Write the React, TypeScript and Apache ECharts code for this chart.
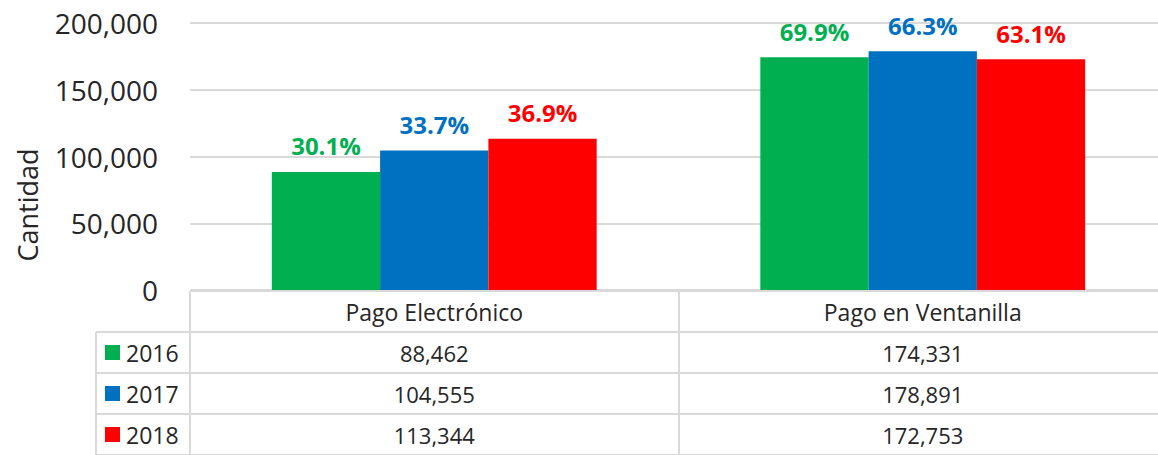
import React, { useEffect, useRef } from "react";
import * as echarts from "echarts";

const categories = ["Pago Electrónico", "Pago en Ventanilla"];
const years = ["2016", "2017", "2018"];
const values2016 = [88462, 174331];
const values2017 = [104555, 178891];
const values2018 = [113344, 172753];
const pct2016 = ["30.1%", "69.9%"];
const pct2017 = ["33.7%", "66.3%"];
const pct2018 = ["36.9%", "63.1%"];
const colors = ["#00B050", "#0070C0", "#FF0000"];

const FONT = "'Open Sans', sans-serif";
const TEXT = "#262626";
const LINE = "#d9d9d9";

const fmt = (v: number) => v.toLocaleString("en-US");

export default function App() {
  const ref = useRef<HTMLDivElement>(null);
  useEffect(() => {
    document.body.style.margin = "0";
    document.body.style.overflow = "hidden";
    const chart = echarts.init(ref.current!, null, { renderer: "svg" });
    const seriesValues = [values2016, values2017, values2018];
    const seriesPct = [pct2016, pct2017, pct2018];

    const cellData: number[][] = [];
    for (let r = 0; r < 4; r++) {
      for (let c = 0; c < categories.length; c++) cellData.push([c, r]);
    }

    const bars = years.map((y, i) => ({
      name: y,
      type: "bar",
      xAxisIndex: 0,
      yAxisIndex: 0,
      data: seriesValues[i],
      barGap: "0%",
      barCategoryGap: "33.5%",
      itemStyle: { color: colors[i] },
      label: {
        show: true,
        position: "top",
        distance: 14,
        formatter: (p: any) => seriesPct[i][p.dataIndex],
        color: colors[i],
        fontFamily: FONT,
        fontWeight: "bold",
        fontSize: 24,
      },
    }));

    const rich: any = { y: { fontFamily: FONT, fontSize: 23, color: TEXT, padding: [0, 0, 0, 6] } };
    years.forEach((y, i) => {
      rich["k" + i] = { width: 15, height: 15, backgroundColor: colors[i] };
    });

    chart.setOption({
      animation: false,
      grid: [
        { left: 190, right: 0, top: 23, bottom: 165 },
        { left: 190, right: 0, top: 291, bottom: 0 },
        { left: 96, width: 94, top: 332, bottom: 0 },
      ],
      xAxis: [
        {
          gridIndex: 0,
          type: "category",
          data: categories,
          axisLine: { show: false },
          axisTick: { show: false },
          axisLabel: { show: false },
        },
        {
          gridIndex: 1,
          type: "category",
          data: categories,
          axisLine: { show: false },
          axisTick: { show: false },
          axisLabel: { show: false },
          splitLine: { show: true, lineStyle: { color: LINE, width: 2 } },
        },
        {
          gridIndex: 2,
          type: "category",
          data: [""],
          axisLine: { show: false },
          axisTick: { show: false },
          axisLabel: { show: false },
          splitLine: { show: true, lineStyle: { color: LINE, width: 2 } },
        },
      ],
      yAxis: [
        {
          gridIndex: 0,
          type: "value",
          min: 0,
          max: 200000,
          interval: 50000,
          axisLine: { show: false },
          axisTick: { show: false },
          axisLabel: {
            formatter: (v: number) => fmt(v),
            fontFamily: FONT,
            fontSize: 28,
            color: TEXT,
            margin: 32,
          },
          splitLine: { lineStyle: { color: LINE, width: 2 } },
        },
        {
          gridIndex: 1,
          type: "category",
          inverse: true,
          data: ["", ...years],
          axisLine: { show: false },
          axisTick: { show: false },
          axisLabel: { show: false },
          splitLine: { show: true, lineStyle: { color: LINE, width: 2 } },
        },
        {
          gridIndex: 2,
          type: "category",
          inverse: true,
          data: years,
          axisLine: { show: false },
          axisTick: { show: false },
          axisLabel: {
            inside: true,
            margin: 9,
            formatter: (v: string, idx: number) => `{k${idx}|}{y|${v}}`,
            rich,
          },
          splitLine: { show: true, lineStyle: { color: LINE, width: 2 } },
        },
      ],
      graphic: [
        {
          type: "text",
          x: 27,
          y: 205,
          rotation: Math.PI / 2,
          style: {
            text: "Cantidad",
            font: `27px ${FONT}`,
            fill: TEXT,
            align: "center",
            verticalAlign: "middle",
          },
        },
      ],
      series: [
        ...bars,
        {
          type: "custom",
          xAxisIndex: 1,
          yAxisIndex: 1,
          data: cellData,
          silent: true,
          renderItem: (params: any, api: any) => {
            const c = api.value(0);
            const r = api.value(1);
            const pt = api.coord([c, r]);
            const text = r === 0 ? categories[c] : fmt(seriesValues[r - 1][c]);
            return {
              type: "text",
              x: pt[0],
              y: pt[1],
              style: {
                text,
                font: `${r === 0 ? 23 : 22}px ${FONT}`,
                fill: TEXT,
                align: "center",
                verticalAlign: "middle",
              },
            };
          },
        },
      ],
    });
    return () => chart.dispose();
  }, []);
  return <div ref={ref} style={{ width: 1167, height: 455 }} />;
}
